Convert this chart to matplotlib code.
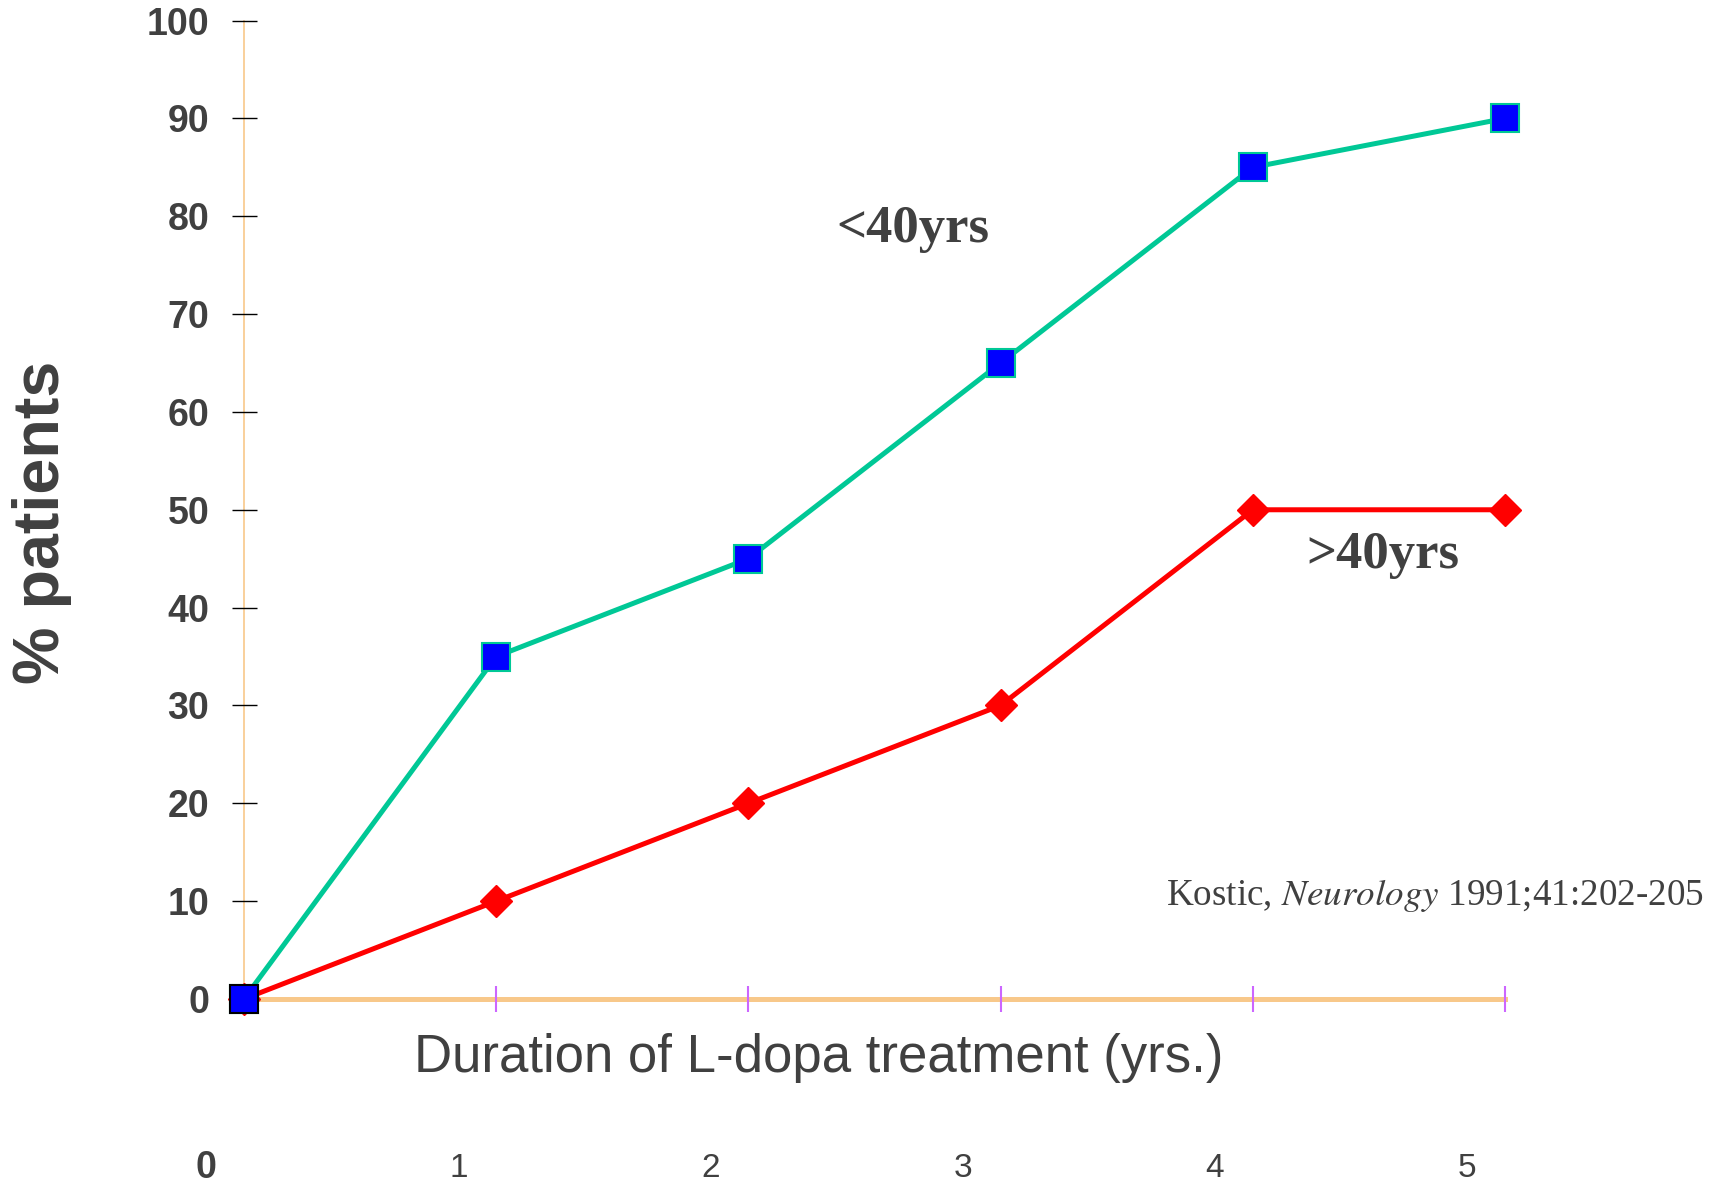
import matplotlib
matplotlib.use("Agg")
import matplotlib.pyplot as plt
import matplotlib.transforms as mtrans

years = [0, 1, 2, 3, 4, 5]
under40 = [0, 35, 45, 65, 85, 90]
over40 = [0, 10, 20, 30, 50, 50]
yticks = [0, 10, 20, 30, 40, 50, 60, 70, 80, 90, 100]
bottom_labels = ["0", "1", "2", "3", "4", "5"]

txt = "#404040"
green = "#00C896"
orange = "#F8C88A"

fig = plt.figure(figsize=(17.25, 11.88), dpi=100)
ax = fig.add_axes([0.1414, 0.1591, 0.8725 - 0.1414, 0.9827 - 0.1591])

ax.plot(years, over40, color="#FF0000", lw=3.6, marker="D", ms=16,
        mfc="#FF0000", mec="#FF0000", clip_on=False, zorder=3)
ax.plot(years, under40, color=green, lw=3.6, marker="s", ms=20.5,
        mfc="#0000FF", mec=green, mew=1.5, clip_on=False, zorder=4)
# first point has a black edge
ax.plot(years[:1], under40[:1], ls="none", marker="s", ms=20.5,
        mfc="#0000FF", mec="black", mew=1.5, clip_on=False, zorder=5)

ax.set_xlim(0, 5)
ax.set_ylim(0, 100)
for s in ["top", "right"]:
    ax.spines[s].set_visible(False)
ax.spines["left"].set_color(orange)
ax.spines["left"].set_linewidth(1.2)
ax.spines["bottom"].set_color(orange)
ax.spines["bottom"].set_linewidth(3.6)
ax.spines["left"].set_zorder(1)
ax.spines["bottom"].set_zorder(1)

ax.set_yticks(yticks)
ax.set_yticklabels([str(v) for v in yticks])
ax.tick_params(axis="y", direction="inout", length=18, width=1, color="black",
               pad=16, labelsize=27, labelcolor=txt)
for lab in ax.get_yticklabels():
    lab.set_fontweight("bold")
    lab.set_family("Liberation Sans")

ax.set_xticks(years[1:])
ax.set_xticklabels([])
ax.tick_params(axis="x", direction="inout", length=19, width=1.5, color="#CC66FF")

# shifted bottom labels
trans = mtrans.blended_transform_factory(ax.transData, fig.transFigure)
for x, lab in zip(years, bottom_labels):
    bold = lab == "0"
    ax.text(x - 0.15, 0.0168, lab, transform=trans, ha="center", va="center",
            fontsize=27 if bold else 24, fontweight="bold" if bold else "normal",
            color=txt, family="Liberation Sans")

fig.text(42 / 1725, 0.5606, "% patients", rotation=90, ha="center", va="center",
         fontsize=46.5, fontweight="bold", color=txt, family="Liberation Sans")
fig.text(819 / 1725, 1 - 1058 / 1188, "Duration of L-dopa treatment (yrs.)",
         ha="center", va="center", fontsize=38, color=txt, family="Liberation Sans")

fig.text(913 / 1725, 1 - 229 / 1188, "<40yrs", ha="center", va="center",
         fontsize=38, fontweight="bold", color=txt, family="Liberation Serif")
fig.text(1383 / 1725, 1 - 555 / 1188, ">40yrs", ha="center", va="center",
         fontsize=38, fontweight="bold", color=txt, family="Liberation Serif")

fig.text(1166 / 1725, 1 - 896 / 1188,
         "Kostic, $\\mathit{Neurology}$ 1991;41:202-205",
         ha="left", va="center", fontsize=26.7, color=txt, family="Liberation Serif",
         math_fontfamily="stix")

fig.savefig("out.png", dpi=100)
